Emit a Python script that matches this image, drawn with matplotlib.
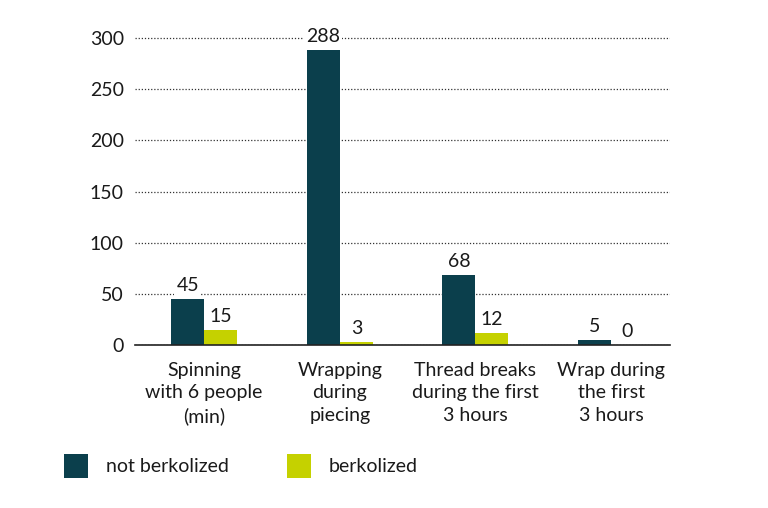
import numpy as np
import matplotlib.pyplot as plt
from matplotlib.patches import Rectangle

plt.rcParams['font.family'] = ['Lato', 'DejaVu Sans']

categories = ['Spinning\nwith 6 people\n(min)',
              'Wrapping\nduring\npiecing',
              'Thread breaks\nduring the first\n3 hours',
              'Wrap during\nthe first\n3 hours']
not_berkolized = [45, 288, 68, 5]
berkolized = [15, 3, 12, 0]
series_names = ['not berkolized', 'berkolized']
yticks = [0, 50, 100, 150, 200, 250, 300]

dark = '#0b3f4c'
green = '#c5d100'
txt = '#1a1a1a'
fs = 14

fig = plt.figure(figsize=(7.68, 5.08), dpi=100)
ax = fig.add_axes([0.1758, 0.3209, 0.6966, 0.6244])

x = np.arange(len(categories))
w = 0.244

ax.bar(x - w / 2, not_berkolized, width=w, color=dark, zorder=3)
ax.bar(x + w / 2, berkolized, width=w, color=green, zorder=3)

# value labels, white box cuts the dotted grid like in the original
for xi, v in zip(x - w / 2, not_berkolized):
    ax.text(xi, v + 5, str(v), ha='center', va='bottom', fontsize=fs, color=txt,
            zorder=4, bbox=dict(facecolor='white', edgecolor='none', pad=1.5))
for xi, v in zip(x + w / 2, berkolized):
    ax.text(xi, v + 5, str(v), ha='center', va='bottom', fontsize=fs, color=txt,
            zorder=4, bbox=dict(facecolor='white', edgecolor='none', pad=1.5))

ax.set_xlim(-0.51, 3.435)
ax.set_ylim(0, 310)
ax.set_yticks(yticks)
ax.set_xticks(x)
ax.set_xticklabels(categories, fontsize=fs, color=txt, linespacing=1.4)
ax.tick_params(axis='y', length=0, pad=8, labelsize=fs, labelcolor=txt)
ax.tick_params(axis='x', length=0, pad=12)

ax.yaxis.grid(True, linestyle=(0, (1, 1.5)), color='#333333', linewidth=0.9, zorder=0)
ax.set_axisbelow(True)
for s in ['top', 'right', 'left']:
    ax.spines[s].set_visible(False)
ax.spines['bottom'].set_color('#222222')
ax.spines['bottom'].set_linewidth(1.2)
ax.spines['bottom'].set_zorder(5)

# legend drawn by hand at the bottom left
W, H = 768, 508
for (sx, tx), col, name in zip([(64, 106), (287, 329)], [dark, green], series_names):
    fig.patches.append(Rectangle((sx / W, 1 - 478 / H), 24 / W, 24 / H,
                                 transform=fig.transFigure, facecolor=col,
                                 edgecolor='none'))
    fig.text(tx / W, 1 - 467 / H, name, fontsize=fs, color=txt, va='center', ha='left')

fig.savefig('out.png', dpi=100)
